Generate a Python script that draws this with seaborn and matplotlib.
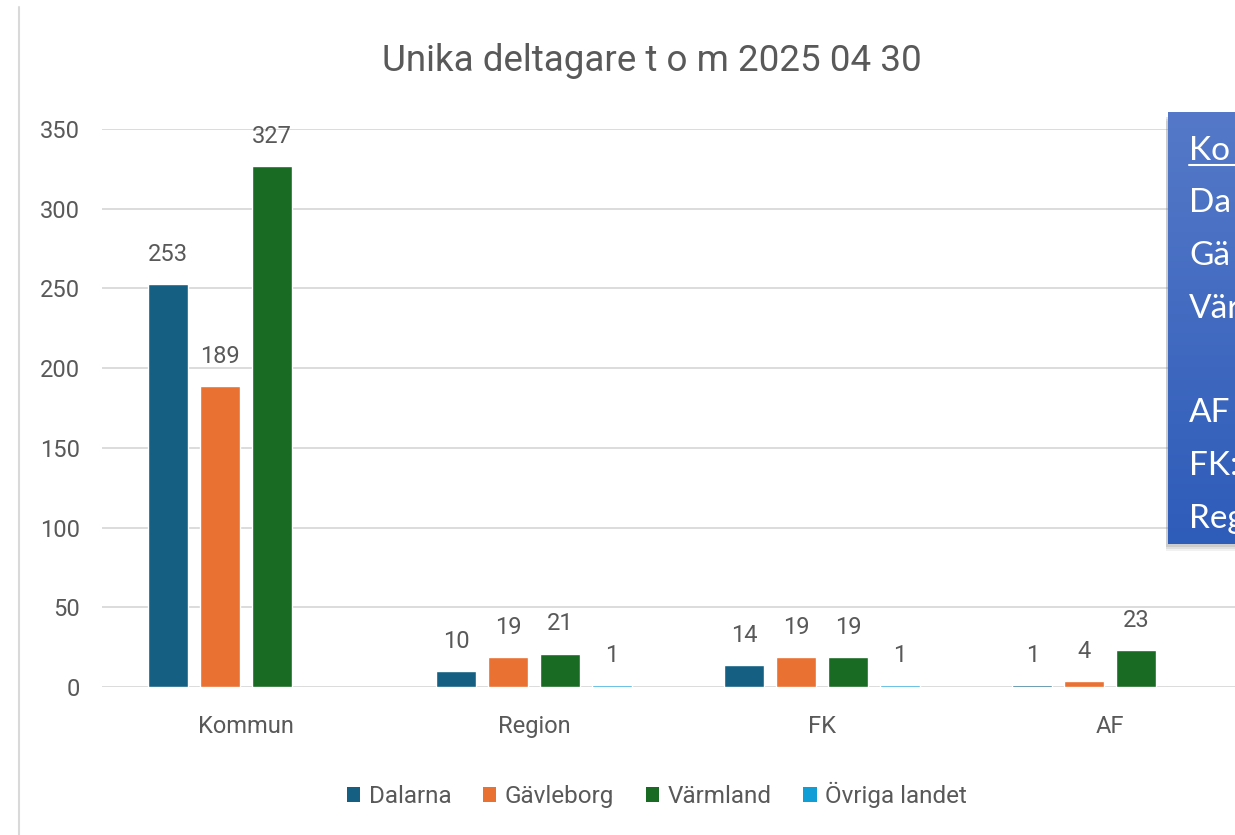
#!/usr/bin/env python3
"""Unika deltagare per kategori och region, grupperat stapeldiagram."""

import numpy as np
import pandas as pd
import matplotlib
matplotlib.use('Agg')
import matplotlib.pyplot as plt
import seaborn as sns
from matplotlib.patches import Rectangle, Patch
from matplotlib.lines import Line2D
from matplotlib.colors import LinearSegmentedColormap

# Data
categories = ['Kommun', 'Region', 'FK', 'AF']
regions = ['Dalarna', 'Gävleborg', 'Värmland', 'Övriga landet']
dalarna = [253, 10, 14, 1]
gavleborg = [189, 19, 19, 4]
varmland = [327, 21, 19, 23]
ovriga = [np.nan, 1, 1, np.nan]
colors = ['#156082', '#E97132', '#196B24', '#0F9ED5']
title = 'Unika deltagare t o m 2025 04 30'
# text box at the right edge, only the visible start of each line
box_lines = ['Ko', 'Da', 'Gä', 'Vär', '', 'AF', 'FK:', 'Reg']

rows = []
for reg, vals in zip(regions, [dalarna, gavleborg, varmland, ovriga]):
    for cat, v in zip(categories, vals):
        rows.append({'kategori': cat, 'region': reg, 'antal': v})
df = pd.DataFrame(rows)

sns.set_theme(style='white')
plt.rcParams['font.family'] = ['Roboto', 'DejaVu Sans']

W, H = 1235, 835
fig = plt.figure(figsize=(W / 100, H / 100), dpi=100)
grey = '#595959'

ax = fig.add_axes([102 / W, (H - 687) / H, (1254 - 102) / W, (687 - 129) / H])
sns.barplot(data=df, x='kategori', y='antal', hue='region', order=categories,
            hue_order=regions, palette=colors, width=0.72, gap=0.23,
            errorbar=None, saturation=1, legend=False, ax=ax)

for c in ax.containers:
    ax.bar_label(c, fmt='%d', padding=13, fontsize=17, color=grey)

ax.set_ylim(0, 350)
ax.set_xlim(-0.5, 3.5)
ax.set_yticks(range(0, 351, 50))
ax.yaxis.grid(True, color='#D9D9D9', lw=1.3)
ax.xaxis.grid(False)
ax.set_axisbelow(True)
for s in ax.spines.values():
    s.set_visible(False)
ax.set_xlabel('')
ax.set_ylabel('')
ax.tick_params(axis='y', length=0, pad=16, labelsize=17, labelcolor=grey)
ax.tick_params(axis='x', length=0, pad=20, labelsize=17, labelcolor=grey)

fig.text(652 / W, (H - 61) / H, title, ha='center', va='center', fontsize=26.5, color=grey)

handles = [Patch(facecolor=c, edgecolor='none') for c in colors]
fig.legend(handles, regions, loc='center', bbox_to_anchor=(657 / W, (H - 795) / H),
           ncol=4, frameon=False, fontsize=17.5, handlelength=0.55, handleheight=0.6,
           handletextpad=0.35, columnspacing=1.3, labelcolor=grey)

# chart border on the left
fig.add_artist(Line2D([19 / W, 19 / W], [0, (H - 7) / H], color='#D9D9D9', lw=1.5,
                      transform=fig.transFigure))

# blue text box on the right (cut off at the edge), soft shadow below
for off, a in [(6, 0.10), (4, 0.15), (2, 0.2)]:
    fig.patches.append(Rectangle((1166 / W, (H - 545 - off) / H), 90 / W, (545 - 115) / H,
                                 transform=fig.transFigure, facecolor='#7F7F7F',
                                 alpha=a, edgecolor='none', zorder=1))
gax = fig.add_axes([1168 / W, (H - 544) / H, (1250 - 1168) / W, (544 - 112) / H])
gax.set_zorder(2)
grad = np.linspace(0, 1, 256).reshape(-1, 1)
cmap = LinearSegmentedColormap.from_list('box', ['#5579C8', '#2E5CB9'])
gax.imshow(grad, aspect='auto', cmap=cmap, extent=[0, 1, 0, 1])
gax.axis('off')

y0 = 160
for i, line in enumerate(box_lines):
    if line:
        fig.text(1189 / W, (H - (y0 + i * 52.5)) / H, line, ha='left', va='baseline',
                 fontsize=24, color='white', family=['Lato', 'DejaVu Sans'], zorder=4)
fig.add_artist(Line2D([1189 / W, 1.0], [(H - 165) / H, (H - 165) / H], color='white',
                      lw=1.5, transform=fig.transFigure, zorder=4))

fig.savefig('out.png', dpi=100)
print("Saved: out.png")
